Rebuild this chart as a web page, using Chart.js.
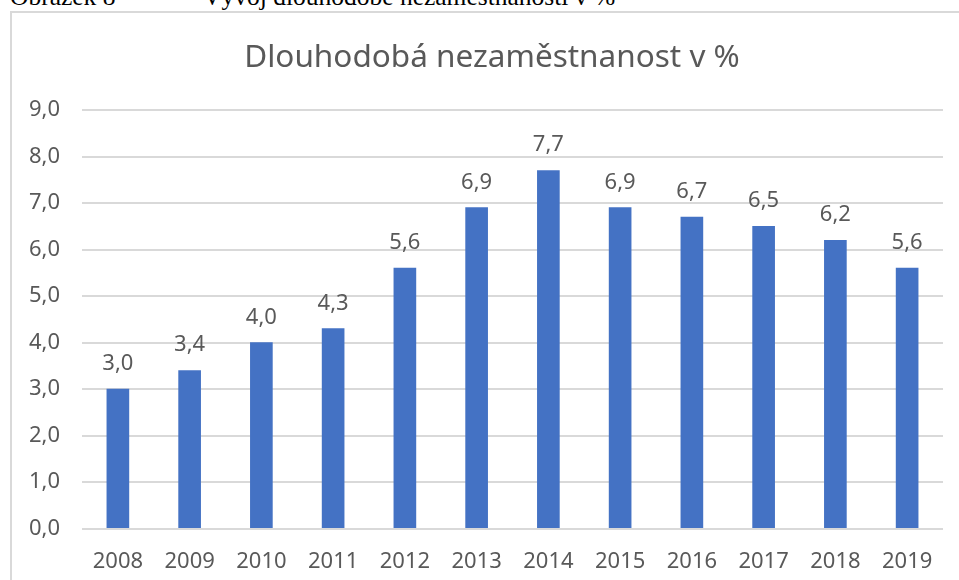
<!DOCTYPE html>
<html>
<head>
<meta charset="utf-8">
<script src="https://cdn.jsdelivr.net/npm/chart.js@4"></script>
<style>
  html, body { margin: 0; padding: 0; background: #fff; overflow: hidden; width: 959px; height: 580px; }
  .caption { position: absolute; top: -16.5px; font: 25.5px/25.5px "Liberation Serif", serif; color: #000; white-space: nowrap; }
  .box { position: absolute; left: 10px; top: 11px; width: 1000px; height: 700px;
         border-left: 2px solid #d9d9d9; border-top: 2px solid #d9d9d9; }
  #chart { position: absolute; left: 12px; top: 13px; }
</style>
</head>
<body>
<div class="caption" style="left:10px">Obrázek 8</div>
<div class="caption" style="left:203px">Vývoj dlouhodobé nezaměstnanosti v %</div>
<div class="box"></div>
<canvas id="chart" width="960" height="600"></canvas>
<script>
// data
const years = ['2008', '2009', '2010', '2011', '2012', '2013', '2014', '2015', '2016', '2017', '2018', '2019'];
const unemployment = [3.0, 3.4, 4.0, 4.3, 5.6, 6.9, 7.7, 6.9, 6.7, 6.5, 6.2, 5.6];
const yTicks = [0, 1, 2, 3, 4, 5, 6, 7, 8, 9];
const chartTitle = 'Dlouhodobá nezaměstnanost v %';

const fmt = v => v.toFixed(1).replace('.', ',');

// value labels above bars + title (box is wider than the window, so title centred on canvas)
const extras = {
  id: 'extras',
  afterDatasetsDraw(chart) {
    const ctx = chart.ctx;
    const meta = chart.getDatasetMeta(0);
    ctx.save();
    ctx.font = '22px "Noto Sans", sans-serif';
    ctx.fillStyle = '#595959';
    ctx.textAlign = 'center';
    ctx.textBaseline = 'alphabetic';
    meta.data.forEach((bar, i) => {
      ctx.fillText(fmt(chart.data.datasets[0].data[i]), bar.x, bar.y - 19);
    });
    ctx.font = '31.5px "Noto Sans", sans-serif';
    ctx.fillText(chartTitle, chart.width / 2, 54);
    ctx.restore();
  }
};

Chart.defaults.font.family = '"Noto Sans", sans-serif';
Chart.defaults.color = '#595959';

const ctx = document.getElementById('chart').getContext('2d');
const chart = new Chart(ctx, {
  type: 'bar',
  data: {
    labels: years,
    datasets: [{
      label: 'Dlouhodobá nezaměstnanost',
      data: unemployment,
      backgroundColor: '#4472c4',
      barThickness: 22
    }]
  },
  options: {
    responsive: false,
    animation: false,
    devicePixelRatio: 1,
    layout: { padding: { left: 0, right: 29, top: 97, bottom: 18 } },
    plugins: {
      legend: { display: false },
      tooltip: { enabled: false },
      title: { display: false }
    },
    scales: {
      x: {
        grid: { display: false, drawTicks: false },
        border: { display: false },
        ticks: { font: { size: 22 }, color: '#595959', padding: 20 }
      },
      y: {
        min: 0,
        max: 9,
        afterFit(scale) { scale.width = 70; },
        afterBuildTicks(scale) { scale.ticks = yTicks.map(v => ({ value: v })); },
        grid: { color: '#d9d9d9', lineWidth: 2, drawTicks: false },
        border: { display: false },
        ticks: { font: { size: 22 }, color: '#595959', padding: 22, callback: v => fmt(v) }
      }
    }
  },
  plugins: [extras]
});
</script>
</body>
</html>
